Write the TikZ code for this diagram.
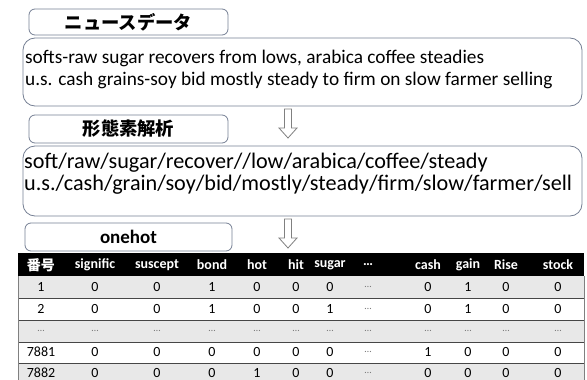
\documentclass[tikz,border=0pt]{standalone}
\usepackage{fontspec}
\setmainfont{Carlito}
\newfontfamily\jp{Noto Sans CJK JP}
\definecolor{boxline}{RGB}{118,128,148}
\definecolor{rowgray}{RGB}{232,232,232}
\definecolor{sepline}{RGB}{70,70,70}
\definecolor{arrowline}{RGB}{128,128,128}
\definecolor{dotgray}{RGB}{120,120,120}
\newcommand\gdots{{\color{dotgray}\fontsize{10}{12}\selectfont\dots}}
\begin{document}
\begin{tikzpicture}[x=1pt,y=-1pt,
  titlebox/.style={draw=boxline,line width=0.8pt,rounded corners=6pt,fill=white},
  textbox/.style={draw=boxline,line width=0.8pt,rounded corners=12pt,fill=white},
  blockarrow/.style={draw=arrowline,line width=0.8pt,fill=white,line join=miter},
  bodytext/.style={anchor=west,inner sep=0pt,font=\fontsize{19.3}{22}\selectfont},
  bigtext/.style={anchor=west,inner sep=0pt,font=\fontsize{22.2}{22}\selectfont},
  titletext/.style={inner sep=0pt,font=\jp\bfseries\fontsize{18.3}{20}\selectfont},
  headcell/.style={inner sep=0pt,text=white,font=\bfseries\fontsize{14}{16}\selectfont},
  datacell/.style={inner sep=0pt,font=\fontsize{14}{16}\selectfont}]
\useasboundingbox (0,0) rectangle (587,380);
\fill[white] (0,0) rectangle (587,380);

% ---- News data
\draw[titlebox] (29,9) rectangle (228,35);
\node[titletext] (t1) at (128.5,22) {ニュースデータ};
\draw[textbox] (23,38) rectangle (582,106);
\node[bodytext] (b1l1) at (25,58) {softs-raw sugar recovers from lows, arabica coffee steadies};
\node[bodytext] (b1l2) at (25,80) {u.s. cash grains-soy bid mostly steady to firm on slow farmer selling};

% arrow 1
\draw[blockarrow] (284.5,109) -- (291.5,109) -- (291.5,128) -- (297,128) -- (288,138) -- (279,128) -- (284.5,128) -- cycle;

% ---- Morphological analysis
\draw[titlebox] (29,115) rectangle (228,143);
\node[titletext] (t2) at (128.5,129) {形態素解析};
\draw[textbox] (23,146) rectangle (582,216);
\node[bigtext] (b2l1) at (24,163) {soft/raw/sugar/recover//low/arabica/coffee/steady};
\node[bigtext] (b2l2) at (24,185) {u.s./cash/grain/soy/bid/mostly/steady/firm/slow/farmer/sell};

% arrow 2
\draw[blockarrow] (284.5,219) -- (291.5,219) -- (291.5,238) -- (297,238) -- (288,248) -- (279,238) -- (284.5,238) -- cycle;

% ---- onehot
\draw[titlebox] (25,223) rectangle (232,251);
\node[inner sep=0pt,font=\bfseries\fontsize{19}{20}\selectfont] (t3) at (128.5,237) {onehot};

% ---- table
\fill[black] (18,253) rectangle (584,276);
\fill[rowgray] (18,276) rectangle (584,298);
\fill[white] (18,298) rectangle (584,320);
\fill[rowgray] (18,320) rectangle (584,342);
\fill[white] (18,342) rectangle (584,363);
\fill[rowgray] (18,363) rectangle (584,380);
\foreach \yy in {298,320,342,363} \draw[sepline,line width=0.6pt] (18,\yy) -- (584,\yy);
\draw[gray,line width=0.6pt] (18,276) -- (18,380);
\draw[gray,line width=0.6pt] (584,276) -- (584,380);

\node[headcell,font=\jp\bfseries\fontsize{14}{16}\selectfont] (h1) at (41,265) {番号};
\foreach \xx/\tt [count=\i from 2] in {95/signific,157/suscept,212/bond,257/hot,296/hit,330/sugar,368/\dots,428/cash,468/gain,506/Rise,558/stock}
  \node[headcell] (h\i) at (\xx,265) {\tt};

\foreach \yy/\rowvals [count=\r] in {
  287/{1,0,0,1,0,0,0,\gdots,0,1,0,0},
  309/{2,0,0,1,0,0,1,\gdots,0,1,0,0},
  331/{\gdots,\gdots,\gdots,\gdots,\gdots,\gdots,\gdots,\gdots,\gdots,\gdots,\gdots,\gdots},
  352/{7881,0,0,0,0,0,0,\gdots,1,0,0,0},
  373/{7882,0,0,0,1,0,0,\gdots,0,0,0,0}}{
  \foreach \v [count=\c] in \rowvals {
    \pgfmathparse{{41,95,157,212,257,296,330,368,428,468,506,558}[\c-1]}
    \edef\cx{\pgfmathresult}
    \node[datacell] (d\r-\c) at (\cx,\yy) {\v};
  }
}
\end{tikzpicture}
\end{document}
